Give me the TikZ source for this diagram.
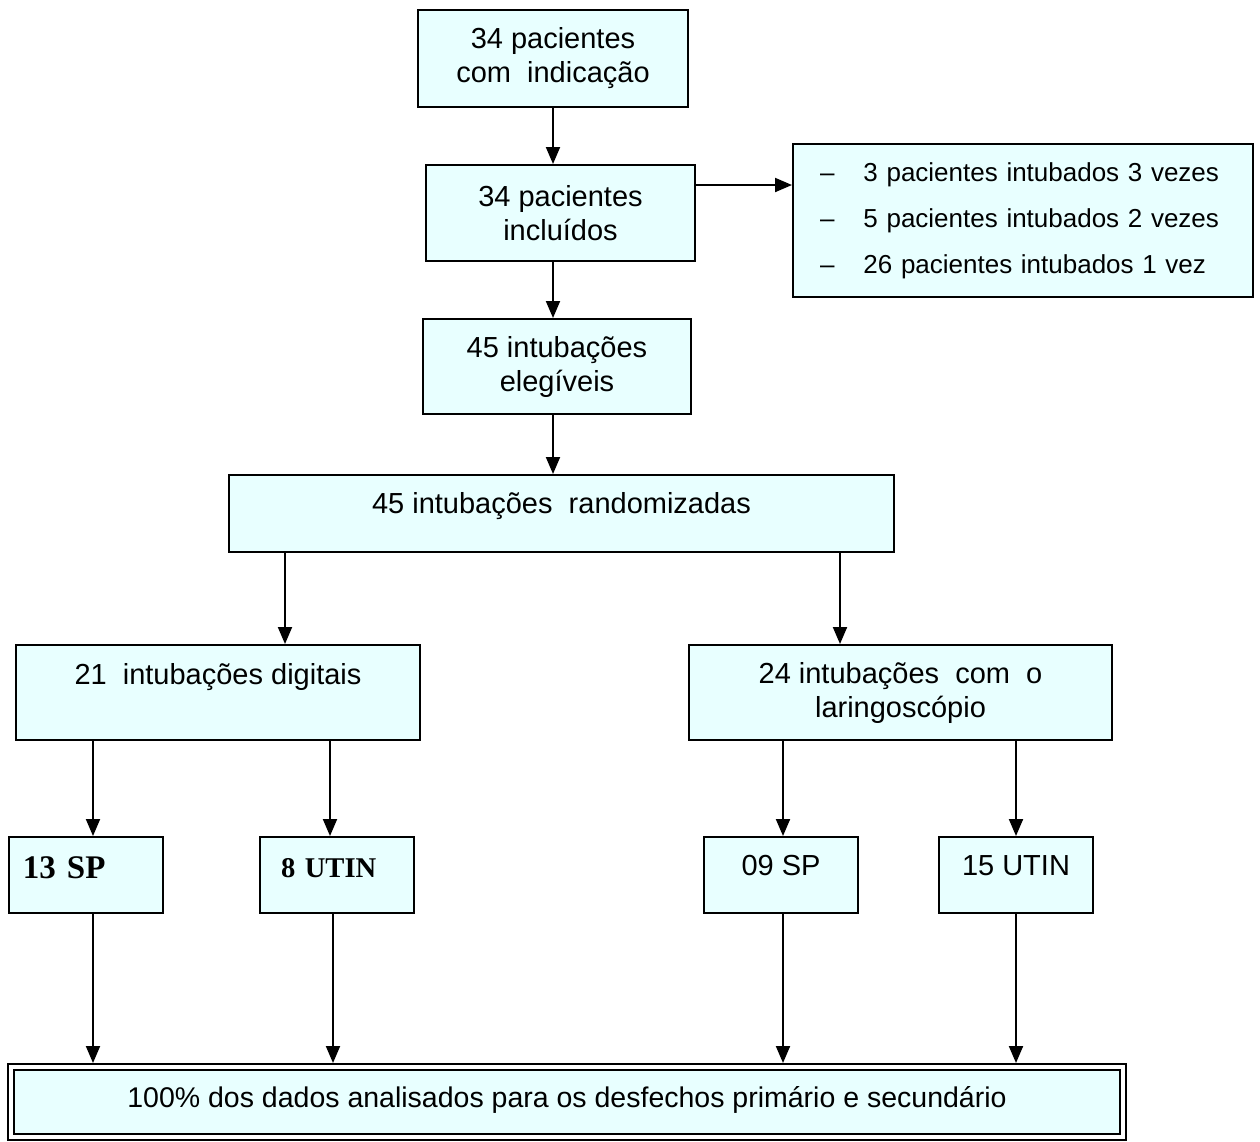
\documentclass[tikz,border=0pt]{standalone}
\usepackage{fontspec}
\setmainfont{Liberation Sans}
\newfontfamily\timesfont{Liberation Serif}
\usetikzlibrary{arrows.meta}
\definecolor{boxfill}{RGB}{232,255,255}

\begin{document}
\begin{tikzpicture}[x=0.5pt,y=-0.5pt]
            \tikzstyle{box}=[draw,fill=boxfill,rectangle,inner sep=0pt,line width=1pt,font=\fontsize{14.5}{17}\selectfont]
            \tikzstyle{arr}=[line width=1pt,-{Triangle[length=8.5pt,width=7pt]}]
            \useasboundingbox (0,0) rectangle (1260,1142);
            \draw (553,58.5) node[box,minimum width=135pt,minimum height=48.5pt,align=center] (ind) {34 pacientes\\com\ \ indicação};
            \draw (560.5,213) node[box,minimum width=134.5pt,minimum height=48pt,align=center] (inc) {34 pacientes\\incluídos};
            \draw (1023,220.5) node[box,minimum width=230pt,minimum height=76.5pt,inner xsep=13.5pt,text width=203pt,align=left,font=\fontsize{13}{23}\selectfont] (lst) {–\hspace{14.5pt}3 pacientes intubados 3 vezes\\–\hspace{14.5pt}5 pacientes intubados 2 vezes\\–\hspace{14.5pt}26 pacientes intubados 1 vez};
            \draw (557,366.5) node[box,minimum width=134pt,minimum height=47.5pt,align=center] (eleg) {45 intubações\\elegíveis};
            \draw (561.5,513.5) node[box,minimum width=332.5pt,minimum height=38.5pt,text height=10.4pt,text depth=10.5pt] (rand) {45 intubações\ \ randomizadas};
            \draw (218,692.5) node[box,minimum width=202pt,minimum height=47.5pt,text height=10.4pt,text depth=18.5pt] (dig) {21\ \ intubações digitais};
            \draw (900.5,692.5) node[box,minimum width=211.5pt,minimum height=47.5pt,align=center] (lar) {24 intubações\ \ com\ \ o\\laringoscópio};
            \draw (86,875) node[box,minimum width=77pt,minimum height=38pt,inner xsep=7pt,text width=63pt,align=left,text height=10.9pt,text depth=7pt,font=\timesfont\bfseries\fontsize{16.5}{18}\selectfont] (sp13) {13 SP};
            \draw (337,875) node[box,minimum width=77pt,minimum height=38pt,inner xsep=10.5pt,text width=56pt,align=left,text height=9.6pt,text depth=7pt,font=\timesfont\bfseries\fontsize{14.3}{18}\selectfont] (utin8) {8 UTIN};
            \draw (781,875) node[box,minimum width=77pt,minimum height=38pt,text height=10.4pt,text depth=10pt] (sp09) {09 SP};
            \draw (1016,875) node[box,minimum width=77pt,minimum height=38pt,text height=10.4pt,text depth=10pt] (utin15) {15 UTIN};
            \draw (567,1102) node[box,double,double distance=2pt,outer sep=2pt,minimum width=556pt,minimum height=35pt,text height=10pt,text depth=5pt,font=\fontsize{14.25}{17}\selectfont] (res) {100\% dos dados analisados para os desfechos primário e secundário};
            \draw[arr] (ind.south) -- (ind.south |- inc.north);
            \draw[arr] ([yshift=14pt]inc.east) -- ([yshift=14pt]inc.east -| lst.west);
            \draw[arr] (ind.south |- inc.south) -- (ind.south |- eleg.north);
            \draw[arr] (ind.south |- eleg.south) -- (ind.south |- rand.north);
            \draw[arr] ([xshift=33.5pt]dig.north |- rand.south) -- ([xshift=33.5pt]dig.north);
            \draw[arr] ([xshift=-30.25pt]lar.north |- rand.south) -- ([xshift=-30.25pt]lar.north);
            \draw[arr] ([xshift=3.5pt]sp13.north |- dig.south) -- ([xshift=3.5pt]sp13.north);
            \draw[arr] ([xshift=-3.5pt]utin8.north |- dig.south) -- ([xshift=-3.5pt]utin8.north);
            \draw[arr] ([xshift=1pt]sp09.north |- lar.south) -- ([xshift=1pt]sp09.north);
            \draw[arr] (utin15.north |- lar.south) -- (utin15.north);
            \draw[arr] ([xshift=3.5pt]sp13.south) -- ([xshift=3.5pt]sp13.south |- res.north);
            \draw[arr] ([xshift=-2pt]utin8.south) -- ([xshift=-2pt]utin8.south |- res.north);
            \draw[arr] ([xshift=1pt]sp09.south) -- ([xshift=1pt]sp09.south |- res.north);
            \draw[arr] (utin15.south) -- (utin15.south |- res.north);
\end{tikzpicture}
\end{document}
